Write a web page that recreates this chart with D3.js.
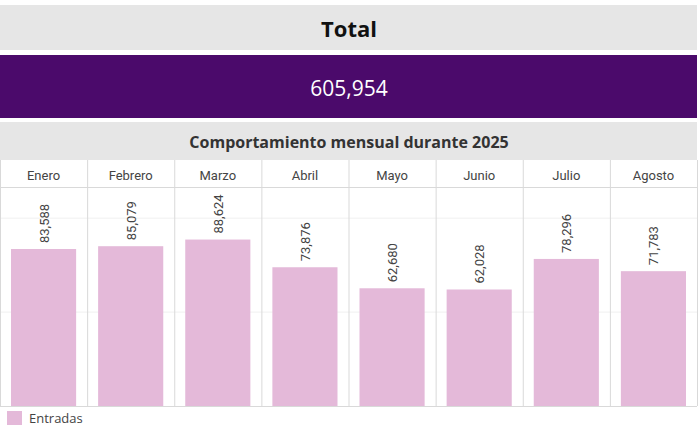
<!DOCTYPE html>
<html><head><meta charset="utf-8">
<script src="https://cdn.jsdelivr.net/npm/d3@7"></script>
<style>body{margin:0;background:#fff;font-family:"Open Sans",sans-serif}</style>
</head><body><svg id="c" width="700" height="433"></svg>
<script>
const months = ['Enero','Febrero','Marzo','Abril','Mayo','Junio','Julio','Agosto'];
const entradas = [83588, 85079, 88624, 73876, 62680, 62028, 78296, 71783];
const totalTxt = '605,954';

const svg = d3.select('#c');
// bandas de cabecera
svg.append('rect').attr('x',0).attr('y',5).attr('width',697).attr('height',45).attr('fill','#e6e6e6');
svg.append('text').attr('x',349).attr('y',37).attr('text-anchor','middle')
  .attr('font-size',22).attr('font-weight','bold').attr('fill','#111').text('Total');
svg.append('rect').attr('x',0).attr('y',55).attr('width',697).attr('height',63).attr('fill','#4b0a6b');
svg.append('text').attr('x',349).attr('y',96).attr('text-anchor','middle')
  .attr('font-size',21).attr('fill','#fff').text(totalTxt);
svg.append('rect').attr('x',0).attr('y',122).attr('width',697).attr('height',38).attr('fill','#e6e6e6');
svg.append('text').attr('x',349).attr('y',148).attr('text-anchor','middle')
  .attr('font-size',16).attr('font-weight','bold').attr('fill','#333').text('Comportamiento mensual durante 2025');

const x = d3.scaleBand().domain(months).range([0,697]);
const y = d3.scaleLinear().domain([0,116600]).range([406,187]);

// rejilla
svg.selectAll('.g').data([50000,100000]).join('line')
  .attr('x1',0).attr('x2',697).attr('y1',d=>y(d)).attr('y2',d=>y(d))
  .attr('stroke','#f0f0f0');
// separadores
svg.selectAll('.s').data(d3.range(months.length+1)).join('line')
  .attr('x1',i=>i*x.step()+0.5).attr('x2',i=>i*x.step()+0.5)
  .attr('y1',160).attr('y2',406).attr('stroke','#d9d9d9');
svg.append('line').attr('x1',0).attr('x2',697).attr('y1',187.5).attr('y2',187.5).attr('stroke','#d9d9d9');
svg.append('line').attr('x1',0).attr('x2',697).attr('y1',406.5).attr('y2',406.5).attr('stroke','#d9d9d9');

svg.selectAll('.h').data(months).join('text')
  .attr('x',d=>x(d)+x.bandwidth()/2).attr('y',180).attr('text-anchor','middle')
  .attr('font-family','Roboto, sans-serif').attr('font-size',13).attr('fill','#444').text(d=>d);

svg.selectAll('.b').data(entradas).join('rect')
  .attr('x',(d,i)=>x(months[i])+11).attr('width',x.bandwidth()-22)
  .attr('y',d=>y(d)).attr('height',d=>406-y(d)).attr('fill','#e4b9d9');

svg.selectAll('.l').data(entradas).join('text')
  .attr('transform',(d,i)=>`translate(${x(months[i])+x.bandwidth()/2+5},${y(d)-6}) rotate(-90)`)
  .attr('font-family','Roboto, sans-serif').attr('font-size',13).attr('fill','#444')
  .text(d=>d3.format(',')(d));

svg.append('rect').attr('x',7).attr('y',411).attr('width',15).attr('height',14).attr('fill','#e4b9d9');
svg.append('text').attr('x',29).attr('y',423).attr('font-size',13).attr('fill','#444').text('Entradas');
</script></body></html>
